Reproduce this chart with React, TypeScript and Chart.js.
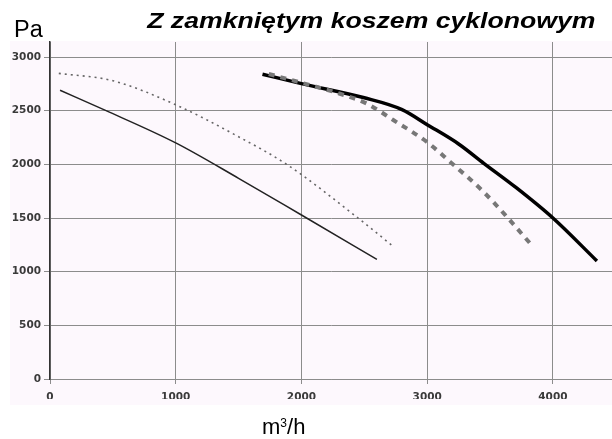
import React, { useEffect, useRef } from "react";
import { Chart, registerables } from "chart.js";

Chart.register(...registerables);

const thinSolidX = [80, 437, 1000, 1500, 2000, 2600];
const thinSolidY = [2690, 2505, 2200, 1870, 1528, 1115];

const thinDottedX = [70, 500, 1000, 1500, 1882, 2450, 2720];
const thinDottedY = [2848, 2779, 2555, 2257, 2000, 1500, 1245];

const thickSolidX = [1690, 2000, 2500, 2800, 3000, 3250, 3450, 3700, 4000, 4350];
const thickSolidY = [2840, 2752, 2620, 2510, 2370, 2190, 2010, 1790, 1500, 1100];

const thickDashX = [1740, 2000, 2300, 2518, 2730, 2995, 3181, 3446, 3632, 3830];
const thickDashY = [2842, 2760, 2660, 2567, 2413, 2211, 2025, 1746, 1513, 1248];

const xTicks = [0, 1000, 2000, 3000, 4000];
const yTicks = [0, 500, 1000, 1500, 2000, 2500, 3000];

const titleText = "Z zamkniętym koszem cyklonowym";
const yUnit = "Pa";

function pts(xs: number[], ys: number[]) {
  return xs.map((x, i) => ({ x, y: ys[i] }));
}

const sans = "'Liberation Sans', Arial, sans-serif";

export default function App() {
  const ref = useRef<HTMLCanvasElement | null>(null);
  useEffect(() => {
    document.body.style.margin = "0";
    document.body.style.background = "#ffffff";
    const ctx = ref.current!;
    const tickFont = { family: "'DejaVu Sans', sans-serif", size: 10.5, weight: "bold" as const };
    const common = { pointRadius: 0, cubicInterpolationMode: "monotone" as const };
    const chart = new Chart(ctx, {
      type: "line",
      data: {
        datasets: [
          { data: pts(thinSolidX, thinSolidY), borderColor: "#222", borderWidth: 1.5, ...common },
          {
            data: pts(thinDottedX, thinDottedY),
            borderColor: "#666",
            borderWidth: 1.6,
            borderDash: [2, 4],
            ...common,
          },
          {
            data: pts(thickDashX, thickDashY),
            borderColor: "#777",
            borderWidth: 4,
            borderDash: [6, 6],
            ...common,
          },
          { data: pts(thickSolidX, thickSolidY), borderColor: "#000", borderWidth: 3.5, ...common },
        ],
      },
      options: {
        animation: false,
        responsive: false,
        devicePixelRatio: 1,
        layout: { padding: { left: 0, right: 0, top: 42, bottom: 40 } },
        plugins: { legend: { display: false }, tooltip: { enabled: false }, title: { display: false } },
        scales: {
          x: {
            type: "linear",
            min: 0,
            max: 4470,
            afterBuildTicks: (s: any) => {
              s.ticks = xTicks.map((v) => ({ value: v }));
            },
            afterFit: (s: any) => {
              s.height = 20;
            },
            ticks: {
              font: tickFont,
              color: "#3a3a3a",
              padding: 7,
              maxRotation: 0,
              callback: (v: any) => String(v),
            },
            grid: { color: "#8c8c8c", lineWidth: 1, tickLength: 5, drawTicks: true },
            border: { color: "#8c8c8c", width: 1 },
          },
          y: {
            type: "linear",
            min: 0,
            max: 3140,
            afterBuildTicks: (s: any) => {
              s.ticks = yTicks.map((v) => ({ value: v }));
            },
            afterFit: (s: any) => {
              s.width = 50;
            },
            ticks: { font: tickFont, color: "#3a3a3a", padding: 3, callback: (v: any) => String(v) },
            grid: { color: "#8c8c8c", lineWidth: 1, tickLength: 6, drawTicks: true },
            border: { color: "#333", width: 1.5 },
          },
        },
      },
    });
    return () => chart.destroy();
  }, []);

  return (
    <div style={{ position: "relative", width: 612, height: 439, background: "#fff", overflow: "hidden" }}>
      <div style={{ position: "absolute", left: 10, top: 41, width: 602, height: 364, background: "#fdf8fd" }} />
      <canvas ref={ref} width={612} height={439} style={{ position: "absolute", left: 0, top: 0 }} />
      <div
        style={{
          position: "absolute",
          right: 17,
          top: 9.7,
          fontFamily: sans,
          fontWeight: "bold",
          fontStyle: "italic",
          fontSize: 22,
          lineHeight: "22px",
          color: "#000",
          whiteSpace: "nowrap",
          transform: "scaleX(1.21)",
          transformOrigin: "right top",
        }}
      >
        {titleText}
      </div>
      <div
        style={{
          position: "absolute",
          left: 14,
          top: 18.4,
          fontFamily: sans,
          fontSize: 23.5,
          lineHeight: "23.5px",
          color: "#000",
        }}
      >
        {yUnit}
      </div>
      <div
        style={{
          position: "absolute",
          left: 262,
          top: 416.4,
          fontFamily: sans,
          fontSize: 22,
          lineHeight: "22px",
          color: "#000",
          whiteSpace: "nowrap",
        }}
      >
        m<span style={{ fontSize: 12, position: "relative", top: -7.3 }}>3</span>/h
      </div>
    </div>
  );
}
